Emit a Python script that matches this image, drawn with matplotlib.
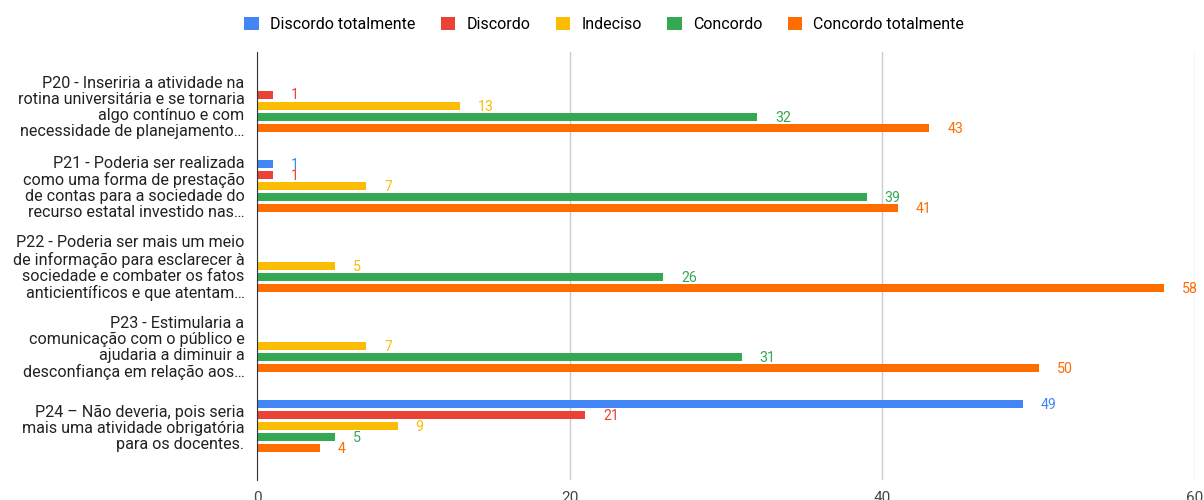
import numpy as np
import matplotlib.pyplot as plt

plt.rcParams['font.family'] = ['Roboto', 'DejaVu Sans']

# categorias (perguntas) e series
perguntas = [
    "P20 - Inseriria a atividade na\nrotina universitária e se tornaria\nalgo contínuo e com\nnecessidade de planejamento…",
    "P21 - Poderia ser realizada\ncomo uma forma de prestação\nde contas para a sociedade do\nrecurso estatal investido nas…",
    "P22 - Poderia ser mais um meio\nde informação para esclarecer à\nsociedade e combater os fatos\nanticientíficos e que atentam…",
    "P23 - Estimularia a\ncomunicação com o público e\najudaria a diminuir a\ndesconfiança em relação aos…",
    "P24 – Não deveria, pois seria\nmais uma atividade obrigatória\npara os docentes.",
]
series = ["Discordo totalmente", "Discordo", "Indeciso", "Concordo", "Concordo totalmente"]
discordo_totalmente = [0, 1, 0, 0, 49]
discordo = [1, 1, 0, 0, 21]
indeciso = [13, 7, 5, 7, 9]
concordo = [32, 39, 26, 31, 5]
concordo_totalmente = [43, 41, 58, 50, 4]
valores = [discordo_totalmente, discordo, indeciso, concordo, concordo_totalmente]
cores = ["#4285F4", "#EA4335", "#FBBC04", "#34A853", "#FF6D01"]
xticks = [0, 20, 40, 60]

fig = plt.figure(figsize=(12.04, 5.0), dpi=100)
ax = fig.add_axes([257 / 1204, 20 / 500, (1195 - 257) / 1204, 428 / 500])

y = np.arange(len(perguntas))
passo = 0.1375
altura = 0.1

for i, (nome, vals, cor) in enumerate(zip(series, valores, cores)):
    pos = y + (i - 2) * passo
    vals = np.array(vals)
    mask = vals > 0
    ax.barh(pos[mask], vals[mask], height=altura, color=cor, label=nome, zorder=3)
    for p, v in zip(pos[mask], vals[mask]):
        ax.text(v + 1.15, p + 0.01, str(v), color=cor, fontsize=10.2, va='center', ha='left')

ax.set_xlim(0, 60)
ax.set_ylim(4.5 + 0.17, -0.5 - 0.17)
ax.set_yticks(y)
ax.set_yticklabels(perguntas, fontsize=11.6, color='#222222', linespacing=1.08)
ax.set_xticks(xticks)
ax.set_xticklabels([str(t) for t in xticks], fontsize=11, color='#444444')
ax.tick_params(axis='both', length=0)
ax.tick_params(axis='x', pad=8)
ax.tick_params(axis='y', pad=9)

for s in ['top', 'right', 'bottom']:
    ax.spines[s].set_visible(False)
ax.spines['left'].set_color('#333333')
ax.spines['left'].set_zorder(4)
ax.grid(axis='x', color='#cccccc', linewidth=1, zorder=0)

fig.legend(loc='upper center', bbox_to_anchor=(0.502, 0.995), ncol=5, frameon=False,
           fontsize=11.5, handlelength=0.9, handleheight=0.9, columnspacing=1.6,
           handletextpad=0.7)

plt.savefig('out.png', dpi=100)
